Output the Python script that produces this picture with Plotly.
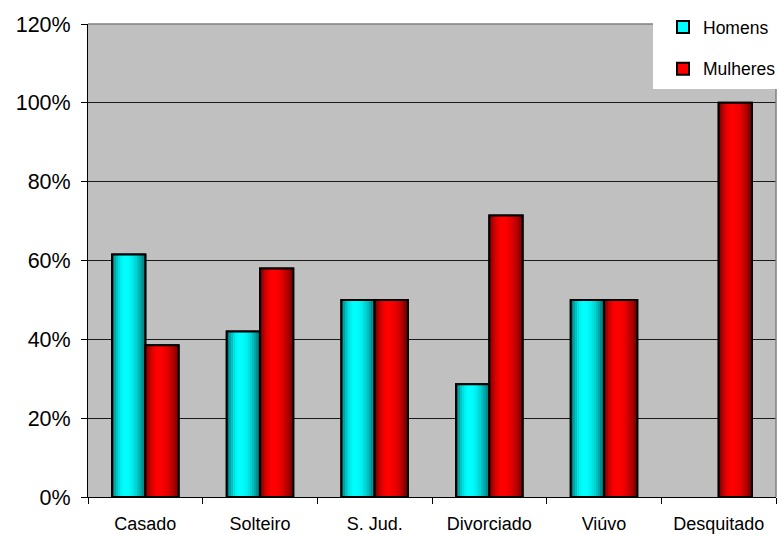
import plotly.graph_objects as go

# Estado civil: proporção de homens e mulheres por categoria
categorias = ["Casado", "Solteiro", "S. Jud.", "Divorciado", "Viúvo", "Desquitado"]
homens = [0.615, 0.42, 0.50, 0.286, 0.50, 0.0]
mulheres = [0.385, 0.58, 0.50, 0.714, 0.50, 1.0]
y_ticks = [0, 0.2, 0.4, 0.6, 0.8, 1.0, 1.2]

BAR_W = 0.29
N_STRIPS = 16
FONT = "Liberation Sans, Arial, sans-serif"


def shade(rgb, t):
    """Cylinder-like shading across the bar width (t from 0 to 1)."""
    peak = 0.4
    d = (t - peak) / (peak if t < peak else 1 - peak)
    k = 1.0 - 0.62 * d * d
    return "rgb({},{},{})".format(*[int(round(c * k)) for c in rgb])


def add_series(fig, name, values, rgb, offset, group):
    # empty bars (0%) are not drawn at all
    vals = [v if v > 0 else None for v in values]
    solid = "rgb({},{},{})".format(*rgb)
    # base bar: carries the legend swatch
    fig.add_trace(go.Bar(
        x=categorias, y=vals, name=name, legendgroup=group,
        offset=offset, width=BAR_W,
        marker=dict(color=solid, line=dict(color="black", width=2)),
    ))
    # shaded strips
    sw = BAR_W / N_STRIPS
    for i in range(N_STRIPS):
        t = (i + 0.5) / N_STRIPS
        fig.add_trace(go.Bar(
            x=categorias, y=vals, legendgroup=group, showlegend=False,
            offset=offset + i * sw, width=sw * (1.08 if i < N_STRIPS - 1 else 1.0),
            marker=dict(color=shade(rgb, t), line=dict(width=0)),
            hoverinfo="skip",
        ))
    # outline on top
    fig.add_trace(go.Bar(
        x=categorias, y=vals, legendgroup=group, showlegend=False,
        offset=offset, width=BAR_W,
        marker=dict(color="rgba(0,0,0,0)", line=dict(color="black", width=2)),
        hoverinfo="skip",
    ))


fig = go.Figure()
add_series(fig, "Homens", homens, (0, 255, 255), -BAR_W, "h")
add_series(fig, "Mulheres", mulheres, (255, 0, 0), 0.0, "m")

# plot area in pixels, and helpers to convert to paper coordinates
L, T, B, R = 88, 24, 497, 776
pw, ph = R - L, B - T
px = lambda v: (v - L) / pw
py = lambda v: (B - v) / ph

fig.update_layout(
    width=779, height=534,
    margin=dict(l=L, r=779 - R, t=T, b=534 - B, autoexpand=False),
    paper_bgcolor="white",
    plot_bgcolor="#C0C0C0",
    barmode="overlay",
    font=dict(family=FONT, color="black"),
    showlegend=True,
    legend=dict(
        x=px(663), y=py(9), xanchor="left", yanchor="top",
        bgcolor="rgba(0,0,0,0)", borderwidth=0,
        font=dict(family=FONT, size=17.5, color="black"),
        tracegroupgap=16, traceorder="grouped",
        itemclick=False, itemdoubleclick=False,
    ),
    shapes=[
        dict(type="rect", xref="paper", yref="paper",
             x0=px(653), x1=px(781), y0=py(89), y1=py(-5),
             fillcolor="white", line=dict(width=0), layer="above"),
        dict(type="line", xref="paper", yref="paper",
             x0=0, x1=px(653), y0=1, y1=1,
             line=dict(color="#808080", width=1.5), layer="above"),
        dict(type="line", xref="paper", yref="paper",
             x0=1, x1=1, y0=0, y1=py(89),
             line=dict(color="#808080", width=1.5), layer="above"),
    ],
)

fig.update_xaxes(
    type="category", range=[-0.5, len(categorias) - 0.5],
    showgrid=False, showline=True, linecolor="black", linewidth=1,
    ticks="outside", tickson="boundaries", ticklen=6, tickcolor="black",
    tickfont=dict(family=FONT, size=18, color="black"),
    ticklabelstandoff=10, automargin=False,
    zeroline=False, fixedrange=True,
)
fig.update_yaxes(
    range=[0, 1.2], tickvals=y_ticks, tickformat=".0%",
    showgrid=True, gridcolor="#1a1a1a", gridwidth=1,
    showline=True, linecolor="black", linewidth=1,
    ticks="outside", ticklen=6, tickcolor="black",
    tickfont=dict(family=FONT, size=21.5, color="black"),
    ticklabelstandoff=6, automargin=False,
    zeroline=False, fixedrange=True,
)

fig.write_html("out.html", config={"displayModeBar": False})
